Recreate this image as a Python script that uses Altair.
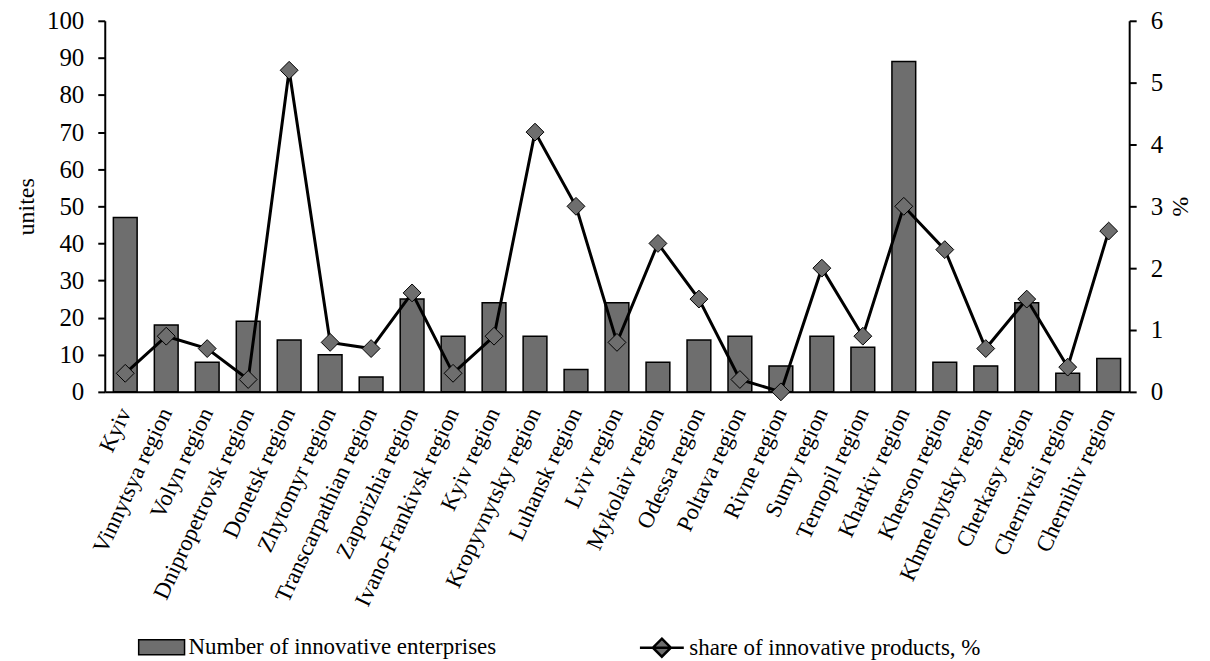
import altair as alt
import pandas as pd

regions = ["Kyiv", "Vinnytsya region", "Volyn region", "Dnipropetrovsk region",
           "Donetsk region", "Zhytomyr region", "Transcarpathian region",
           "Zaporizhia region", "Ivano-Frankivsk region", "Kyiv region",
           "Kropyvnytsky region", "Luhansk region", "Lviv region", "Mykolaiv region",
           "Odessa region", "Poltava region", "Rivne region", "Sumy region",
           "Ternopil region", "Kharkiv region", "Kherson region",
           "Khmelnytsky region", "Cherkasy region", "Chernivtsi region",
           "Chernihiv region"]
enterprises = [47, 18, 8, 19, 14, 10, 4, 25, 15, 24, 15, 6, 24, 8, 14, 15, 7, 15,
               12, 89, 8, 7, 24, 5, 9]
share = [0.3, 0.9, 0.7, 0.2, 5.2, 0.8, 0.7, 1.6, 0.3, 0.9, 4.2, 3.0, 0.8, 2.4, 1.5,
         0.2, 0.0, 2.0, 0.9, 3.0, 2.3, 0.7, 1.5, 0.4, 2.6]
bar_name = "Number of innovative enterprises"
line_name = "share of innovative products, %"

df = pd.DataFrame({"region": regions, "enterprises": enterprises, "share": share,
                   "s1": bar_name, "s2": line_name})

FONT = "Liberation Serif"
GRAY = "#6e6e6e"

x = alt.X("region:N", sort=regions, title=None,
          scale=alt.Scale(paddingInner=0.42, paddingOuter=0.21),
          axis=alt.Axis(labelAngle=-65, labelAlign="right", labelBaseline="middle",
                        ticks=False, domainColor="black", domainWidth=2,
                        labelFontSize=23, labelFont=FONT, labelColor="black",
                        labelPadding=17, labelLimit=0))

y_left = alt.Y("enterprises:Q", scale=alt.Scale(domain=[0, 100]),
               axis=alt.Axis(title="unites", values=list(range(0, 101, 10)), grid=False,
                             domainColor="black", domainWidth=2, tickColor="black",
                             tickWidth=2, tickSize=7, labelFontSize=25, labelFont=FONT,
                             labelColor="black", labelPadding=14, titleFont=FONT,
                             titleFontSize=24, titleFontWeight="normal",
                             titleColor="black", titlePadding=8))

y_right = alt.Y("share:Q", scale=alt.Scale(domain=[0, 6]),
                axis=alt.Axis(orient="right", title="%", values=list(range(0, 7)),
                              grid=False, domainColor="black", domainWidth=2,
                              tickColor="black", tickWidth=2, tickSize=7,
                              labelFontSize=25, labelFont=FONT, labelColor="black",
                              labelPadding=14, titleFont=FONT, titleFontSize=24,
                              titleFontWeight="normal", titleColor="black",
                              titlePadding=5))

bars = alt.Chart(df).mark_bar(stroke="black", strokeWidth=1.5).encode(
    x=x, y=y_left,
    fill=alt.Fill("s1:N", scale=alt.Scale(domain=[bar_name], range=[GRAY]),
                  legend=alt.Legend(title=None, orient="none", legendX=33, legendY=604,
                                    symbolType="M-1,-0.33H1V0.33H-1Z", symbolSize=2116,
                                    symbolStrokeColor="black", symbolStrokeWidth=1.5,
                                    symbolOpacity=1,
                                    labelFont=FONT, labelFontSize=23, labelColor="black",
                                    labelLimit=0, padding=0, labelOffset=3)))

line = alt.Chart(df).mark_line(strokeWidth=3).encode(
    x=x, y=y_right,
    stroke=alt.Stroke("s2:N", scale=alt.Scale(domain=[line_name], range=["black"]),
                      legend=alt.Legend(title=None, orient="none", legendX=535, legendY=605,
                                        symbolType="M-1,0H1M0,-0.41L0.41,0L0,0.41L-0.41,0Z",
                                        symbolSize=1936, symbolStrokeWidth=2.5,
                                        symbolFillColor=GRAY, symbolOpacity=1,
                                        labelFont=FONT, labelFontSize=23,
                                        labelColor="black", labelLimit=0, padding=0,
                                        labelOffset=4)))

points = alt.Chart(df).mark_point(shape="diamond", filled=True, fill=GRAY,
                                  stroke="black", strokeWidth=1, size=320,
                                  opacity=1).encode(x=x, y=y_right)

chart = alt.layer(bars, alt.layer(line, points)).resolve_scale(
    y="independent", fill="independent", stroke="independent"
).properties(
    width=1027, height=372,
    padding={"left": 6, "top": 0, "right": 10, "bottom": 0}
).configure_view(stroke=None)

chart.save("out.html", embed_options={"renderer": "svg", "actions": False})
